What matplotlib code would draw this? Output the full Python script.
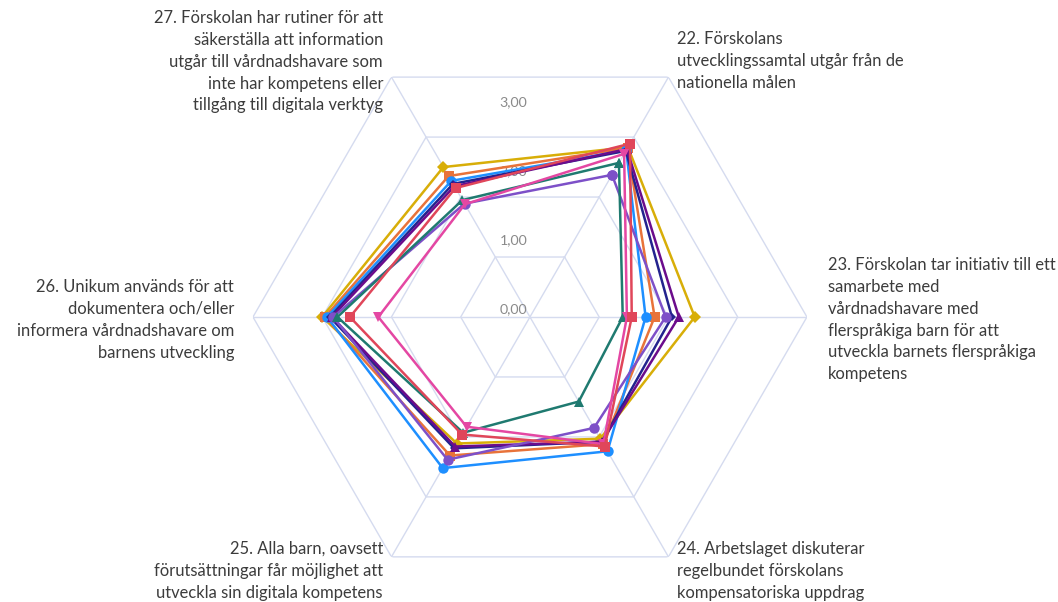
"""Radar chart: förskolans arbete med vårdnadshavare (items 22-27)."""
import numpy as np
import matplotlib
matplotlib.use("Agg")
import matplotlib.pyplot as plt

plt.rcParams["font.family"] = ["Lato", "DejaVu Sans"]

# axis order clockwise starting upper-right
items = ["22", "23", "24", "25", "26", "27"]
ticks = [0, 1, 2, 3]
tick_labels = ["0,00", "1,00", "2,00", "3,00"]

gold = [2.83, 2.38, 2.03, 2.11, 3.00, 2.50]
orange = [2.82, 1.80, 2.12, 2.31, 2.96, 2.35]
blue = [2.78, 1.67, 2.24, 2.52, 2.93, 2.27]
navy = [2.77, 2.05, 2.08, 2.19, 2.89, 2.22]
purple = [2.80, 2.15, 2.08, 2.16, 2.86, 2.18]
lilac = [2.37, 1.96, 1.85, 2.38, 2.84, 1.89]
teal = [2.57, 1.34, 1.41, 1.93, 2.78, 1.95]
pink = [2.72, 1.40, 2.12, 1.83, 2.19, 1.88]
red = [2.89, 1.47, 2.16, 1.96, 2.60, 2.15]

series = [
    (gold, "#d8ae08", "D", 6.5),
    (orange, "#e8733a", "s", 7.5),
    (blue, "#1e8fff", "o", 7.5),
    (navy, "#23238e", "D", 4.5),
    (purple, "#6b0c8c", "^", 7.5),
    (lilac, "#7d50c8", "o", 7.5),
    (teal, "#1f7a70", "^", 7),
    (pink, "#e447a3", "v", 7.5),
    (red, "#e0465a", "s", 7.5),
]

GRID = "#d5dbef"

fig = plt.figure(figsize=(10.58, 6.02), dpi=100)
ax = fig.add_axes([0.2391, 0.0133, 0.5236, 0.9203], projection="polar")
ax.set_theta_offset(np.pi / 3)
ax.set_theta_direction(-1)
ax.set_ylim(0, 4)
ax.grid(False)
ax.set_xticks([]); ax.set_yticks([])
ax.spines["polar"].set_visible(False)

theta = np.arange(len(items)) * np.pi / 3
th_closed = np.append(theta, theta[0])
for r in [1, 2, 3, 4]:
    ax.plot(th_closed, [r] * len(th_closed), color=GRID, lw=1, zorder=1)
for t in theta:
    ax.plot([t, t], [0, 4], color=GRID, lw=1, zorder=1)

for vals, col, mk, ms in series:
    v = np.append(vals, vals[0])
    ax.plot(th_closed, v, color=col, lw=1.8, marker=mk, markersize=ms,
            markeredgewidth=0, zorder=3)

# tick labels along the upward direction
t_up = np.pi / 3 - np.pi / 2
for tv, tl in zip(ticks, tick_labels):
    ax.annotate(tl, (t_up, tv), xytext=(-2, 1), textcoords="offset points",
                ha="right", va="bottom", fontsize=10.2, color="#8a8a8a", zorder=2)

lab = dict(fontsize=11.9, color="#3c3c3c", linespacing=1.45)
W, H = 1058, 602
fig.text(383 / W, 1 - 10 / H,
         "27. Förskolan har rutiner för att\nsäkerställa att information\n"
         "utgår till vårdnadshavare som\ninte har kompetens eller\n"
         "tillgång till digitala verktyg", ha="right", va="top", multialignment="right", **lab)
fig.text(677 / W, 1 - 31 / H,
         "22. Förskolans\nutvecklingssamtal utgår från de\nnationella målen",
         ha="left", va="top", **lab)
fig.text(828 / W, 1 - 257 / H,
         "23. Förskolan tar initiativ till ett\nsamarbete med\nvårdnadshavare med\n"
         "flerspråkiga barn för att\nutveckla barnets flerspråkiga\nkompetens",
         ha="left", va="top", **lab)
fig.text(677 / W, 1 - 541 / H,
         "24. Arbetslaget diskuterar\nregelbundet förskolans\nkompensatoriska uppdrag",
         ha="left", va="top", **lab)
fig.text(383 / W, 1 - 541 / H,
         "25. Alla barn, oavsett\nförutsättningar får möjlighet att\nutveckla sin digitala kompetens",
         ha="right", va="top", multialignment="right", **lab)
fig.text(234 / W, 1 - 279 / H,
         "26. Unikum används för att\ndokumentera och/eller\ninformera vårdnadshavare om\nbarnens utveckling",
         ha="right", va="top", multialignment="right", **lab)

fig.savefig("out.png", dpi=100)
